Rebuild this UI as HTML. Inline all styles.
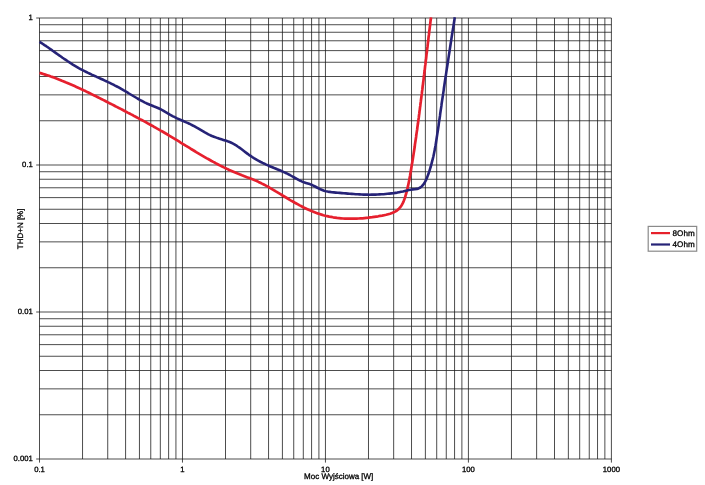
<!DOCTYPE html>
<html lang="pl"><head><meta charset="utf-8"><title>THD+N</title>
<style>
html,body{margin:0;padding:0;background:#fff;}
body{width:705px;height:485px;overflow:hidden;position:relative;}
svg{display:block;position:absolute;left:0;top:0;}
text{font-family:"Liberation Sans",sans-serif;fill:#000;stroke:#000;stroke-width:0.3px;text-rendering:geometricPrecision;}
.t{font-size:7.7px;}
.a{font-size:8px;}
.l{font-size:8.1px;}
</style></head><body>
<svg width="705" height="485" viewBox="0 0 705 485">
<rect width="705" height="485" fill="#fff"/>

<g stroke="#1a1a1a" stroke-width="0.78" fill="none">
<line x1="39.50" y1="18.00" x2="39.50" y2="462.60"/>
<line x1="82.54" y1="18.00" x2="82.54" y2="459.00"/>
<line x1="107.72" y1="18.00" x2="107.72" y2="459.00"/>
<line x1="125.58" y1="18.00" x2="125.58" y2="459.00"/>
<line x1="139.44" y1="18.00" x2="139.44" y2="459.00"/>
<line x1="150.76" y1="18.00" x2="150.76" y2="459.00"/>
<line x1="160.33" y1="18.00" x2="160.33" y2="459.00"/>
<line x1="168.62" y1="18.00" x2="168.62" y2="459.00"/>
<line x1="175.93" y1="18.00" x2="175.93" y2="459.00"/>
<line x1="182.47" y1="18.00" x2="182.47" y2="462.60"/>
<line x1="225.51" y1="18.00" x2="225.51" y2="459.00"/>
<line x1="250.69" y1="18.00" x2="250.69" y2="459.00"/>
<line x1="268.55" y1="18.00" x2="268.55" y2="459.00"/>
<line x1="282.41" y1="18.00" x2="282.41" y2="459.00"/>
<line x1="293.73" y1="18.00" x2="293.73" y2="459.00"/>
<line x1="303.30" y1="18.00" x2="303.30" y2="459.00"/>
<line x1="311.59" y1="18.00" x2="311.59" y2="459.00"/>
<line x1="318.91" y1="18.00" x2="318.91" y2="459.00"/>
<line x1="325.45" y1="18.00" x2="325.45" y2="462.60"/>
<line x1="368.49" y1="18.00" x2="368.49" y2="459.00"/>
<line x1="393.67" y1="18.00" x2="393.67" y2="459.00"/>
<line x1="411.53" y1="18.00" x2="411.53" y2="459.00"/>
<line x1="425.39" y1="18.00" x2="425.39" y2="459.00"/>
<line x1="436.71" y1="18.00" x2="436.71" y2="459.00"/>
<line x1="446.28" y1="18.00" x2="446.28" y2="459.00"/>
<line x1="454.57" y1="18.00" x2="454.57" y2="459.00"/>
<line x1="461.88" y1="18.00" x2="461.88" y2="459.00"/>
<line x1="468.42" y1="18.00" x2="468.42" y2="462.60"/>
<line x1="511.46" y1="18.00" x2="511.46" y2="459.00"/>
<line x1="536.64" y1="18.00" x2="536.64" y2="459.00"/>
<line x1="554.50" y1="18.00" x2="554.50" y2="459.00"/>
<line x1="568.36" y1="18.00" x2="568.36" y2="459.00"/>
<line x1="579.68" y1="18.00" x2="579.68" y2="459.00"/>
<line x1="589.25" y1="18.00" x2="589.25" y2="459.00"/>
<line x1="597.54" y1="18.00" x2="597.54" y2="459.00"/>
<line x1="604.86" y1="18.00" x2="604.86" y2="459.00"/>
<line x1="611.40" y1="18.00" x2="611.40" y2="462.60"/>
<line x1="36.20" y1="459.00" x2="611.40" y2="459.00"/>
<line x1="39.50" y1="414.75" x2="611.40" y2="414.75"/>
<line x1="39.50" y1="388.86" x2="611.40" y2="388.86"/>
<line x1="39.50" y1="370.50" x2="611.40" y2="370.50"/>
<line x1="39.50" y1="356.25" x2="611.40" y2="356.25"/>
<line x1="39.50" y1="344.61" x2="611.40" y2="344.61"/>
<line x1="39.50" y1="334.77" x2="611.40" y2="334.77"/>
<line x1="39.50" y1="326.25" x2="611.40" y2="326.25"/>
<line x1="39.50" y1="318.73" x2="611.40" y2="318.73"/>
<line x1="36.20" y1="312.00" x2="611.40" y2="312.00"/>
<line x1="39.50" y1="267.75" x2="611.40" y2="267.75"/>
<line x1="39.50" y1="241.86" x2="611.40" y2="241.86"/>
<line x1="39.50" y1="223.50" x2="611.40" y2="223.50"/>
<line x1="39.50" y1="209.25" x2="611.40" y2="209.25"/>
<line x1="39.50" y1="197.61" x2="611.40" y2="197.61"/>
<line x1="39.50" y1="187.77" x2="611.40" y2="187.77"/>
<line x1="39.50" y1="179.25" x2="611.40" y2="179.25"/>
<line x1="39.50" y1="171.73" x2="611.40" y2="171.73"/>
<line x1="36.20" y1="165.00" x2="611.40" y2="165.00"/>
<line x1="39.50" y1="120.75" x2="611.40" y2="120.75"/>
<line x1="39.50" y1="94.86" x2="611.40" y2="94.86"/>
<line x1="39.50" y1="76.50" x2="611.40" y2="76.50"/>
<line x1="39.50" y1="62.25" x2="611.40" y2="62.25"/>
<line x1="39.50" y1="50.61" x2="611.40" y2="50.61"/>
<line x1="39.50" y1="40.77" x2="611.40" y2="40.77"/>
<line x1="39.50" y1="32.25" x2="611.40" y2="32.25"/>
<line x1="39.50" y1="24.73" x2="611.40" y2="24.73"/>
<line x1="36.20" y1="18.00" x2="611.40" y2="18.00"/>
</g>
<path d="M39.5,72.9 L41.4,73.4 L43.3,74.0 L45.2,74.6 L47.1,75.2 L49.0,75.8 L50.8,76.5 L52.7,77.1 L54.5,77.8 L56.4,78.5 L58.2,79.2 L60.1,79.9 L61.9,80.7 L63.8,81.4 L65.6,82.2 L67.4,82.9 L69.2,83.7 L71.0,84.5 L72.8,85.3 L74.6,86.1 L76.4,86.9 L78.2,87.7 L80.0,88.6 L81.8,89.4 L83.6,90.3 L85.4,91.1 L87.2,92.0 L88.9,92.8 L90.7,93.7 L92.5,94.6 L94.3,95.5 L96.0,96.3 L97.8,97.2 L99.6,98.1 L101.3,99.0 L103.1,99.9 L104.9,100.8 L106.6,101.7 L108.4,102.6 L110.1,103.5 L111.9,104.4 L113.7,105.3 L115.4,106.2 L117.2,107.1 L118.9,108.0 L120.7,108.9 L122.4,109.8 L124.2,110.8 L126.0,111.7 L127.7,112.6 L129.5,113.5 L131.2,114.4 L133.0,115.3 L134.7,116.3 L136.5,117.2 L138.2,118.1 L139.9,119.1 L141.7,120.0 L143.4,120.9 L145.2,121.9 L146.9,122.8 L148.6,123.8 L150.3,124.7 L152.1,125.7 L153.8,126.7 L155.5,127.6 L157.2,128.6 L159.0,129.6 L160.7,130.6 L162.4,131.5 L164.1,132.5 L165.8,133.5 L167.5,134.5 L169.2,135.6 L170.9,136.6 L172.6,137.6 L174.3,138.6 L176.0,139.7 L177.7,140.7 L179.3,141.7 L181.0,142.8 L182.7,143.8 L184.4,144.8 L186.1,145.9 L187.8,146.9 L189.5,147.9 L191.1,149.0 L192.8,150.0 L194.5,151.0 L196.2,152.1 L197.9,153.1 L199.6,154.1 L201.3,155.1 L203.0,156.1 L204.7,157.1 L206.4,158.1 L208.2,159.0 L209.9,160.0 L211.6,161.0 L213.3,161.9 L215.1,162.8 L216.8,163.8 L218.6,164.7 L220.3,165.6 L222.1,166.5 L223.9,167.4 L225.6,168.2 L227.4,169.1 L229.2,169.9 L231.0,170.7 L232.8,171.5 L234.6,172.3 L236.4,173.1 L238.3,173.8 L240.1,174.5 L242.0,175.3 L243.8,176.0 L245.7,176.7 L247.5,177.4 L249.4,178.1 L251.2,178.8 L253.1,179.5 L254.9,180.3 L256.7,181.0 L258.5,181.9 L260.3,182.7 L262.0,183.6 L263.8,184.5 L265.5,185.4 L267.3,186.4 L269.0,187.3 L270.7,188.3 L272.4,189.3 L274.1,190.3 L275.8,191.4 L277.5,192.4 L279.2,193.4 L280.9,194.4 L282.6,195.5 L284.3,196.5 L286.0,197.5 L287.7,198.5 L289.4,199.6 L291.1,200.6 L292.8,201.5 L294.5,202.5 L296.3,203.5 L298.0,204.4 L299.7,205.4 L301.5,206.3 L303.2,207.2 L305.0,208.1 L306.8,208.9 L308.6,209.7 L310.4,210.5 L312.2,211.3 L314.0,212.0 L315.9,212.7 L317.7,213.4 L319.6,214.0 L321.5,214.6 L323.4,215.2 L325.3,215.7 L327.2,216.1 L329.2,216.6 L331.1,216.9 L333.1,217.3 L335.0,217.6 L337.0,217.9 L339.0,218.1 L341.0,218.3 L343.0,218.5 L344.9,218.6 L346.9,218.7 L348.9,218.7 L350.8,218.7 L352.8,218.7 L354.8,218.7 L356.7,218.6 L358.6,218.5 L360.6,218.4 L362.5,218.3 L364.5,218.1 L366.4,217.9 L368.4,217.7 L370.3,217.4 L372.3,217.2 L374.3,216.9 L376.2,216.6 L378.2,216.3 L380.2,215.9 L382.2,215.6 L384.2,215.2 L386.2,214.8 L388.2,214.3 L390.1,213.8 L392.0,213.1 L393.8,212.3 L395.6,211.4 L397.2,210.3 L398.6,209.1 L399.9,207.7 L401.0,206.2 L402.0,204.6 L402.9,202.9 L403.7,201.1 L404.4,199.3 L405.1,197.4 L405.6,195.4 L406.2,193.5 L406.7,191.6 L407.2,189.6 L407.6,187.7 L408.1,185.7 L408.5,183.8 L408.9,181.9 L409.3,179.9 L409.6,178.0 L410.0,176.0 L410.3,174.1 L410.7,172.1 L411.0,170.2 L411.3,168.2 L411.6,166.3 L411.9,164.3 L412.3,162.4 L412.6,160.4 L412.9,158.5 L413.2,156.5 L413.5,154.6 L413.8,152.6 L414.1,150.7 L414.4,148.7 L414.7,146.8 L414.9,144.8 L415.2,142.9 L415.5,140.9 L415.8,139.0 L416.1,137.0 L416.3,135.0 L416.6,133.1 L416.9,131.1 L417.2,129.2 L417.4,127.2 L417.7,125.3 L418.0,123.3 L418.2,121.3 L418.5,119.4 L418.8,117.4 L419.0,115.5 L419.3,113.5 L419.5,111.5 L419.8,109.6 L420.0,107.6 L420.3,105.7 L420.5,103.7 L420.8,101.7 L421.0,99.8 L421.3,97.8 L421.5,95.8 L421.8,93.9 L422.0,91.9 L422.3,89.9 L422.5,88.0 L422.7,86.0 L423.0,84.1 L423.2,82.1 L423.5,80.1 L423.7,78.2 L423.9,76.2 L424.2,74.2 L424.4,72.3 L424.7,70.3 L424.9,68.3 L425.1,66.4 L425.4,64.4 L425.6,62.4 L425.8,60.5 L426.1,58.5 L426.3,56.6 L426.5,54.6 L426.8,52.6 L427.0,50.7 L427.2,48.7 L427.5,46.7 L427.7,44.8 L427.9,42.8 L428.2,40.8 L428.4,38.9 L428.6,36.9 L428.9,35.0 L429.1,33.0 L429.3,31.0 L429.6,29.1 L429.8,27.1 L430.1,25.1 L430.3,23.2 L430.5,21.2 L430.8,19.3 L431.0,17.3" fill="none" stroke="#e6202e" stroke-width="2.7" stroke-linejoin="round"/>
<path d="M39.5,41.9 L41.2,42.9 L42.9,44.0 L44.5,45.1 L46.2,46.2 L47.8,47.3 L49.5,48.5 L51.1,49.6 L52.7,50.8 L54.3,51.9 L56.0,53.1 L57.6,54.2 L59.2,55.4 L60.9,56.5 L62.5,57.7 L64.1,58.8 L65.8,59.9 L67.4,61.0 L69.1,62.1 L70.7,63.2 L72.4,64.3 L74.1,65.3 L75.8,66.3 L77.5,67.3 L79.2,68.3 L81.0,69.3 L82.7,70.2 L84.5,71.1 L86.3,72.0 L88.1,72.9 L89.9,73.7 L91.7,74.6 L93.5,75.4 L95.3,76.2 L97.1,77.1 L98.9,77.9 L100.7,78.7 L102.6,79.5 L104.4,80.4 L106.2,81.2 L108.0,82.1 L109.8,82.9 L111.6,83.8 L113.4,84.7 L115.1,85.6 L116.9,86.5 L118.7,87.4 L120.4,88.4 L122.1,89.4 L123.8,90.4 L125.6,91.4 L127.3,92.4 L129.0,93.5 L130.7,94.5 L132.4,95.5 L134.1,96.5 L135.8,97.5 L137.5,98.5 L139.3,99.5 L141.0,100.5 L142.8,101.4 L144.5,102.3 L146.3,103.2 L148.1,104.0 L149.9,104.8 L151.8,105.5 L153.6,106.3 L155.5,107.0 L157.3,107.7 L159.1,108.5 L160.9,109.4 L162.7,110.3 L164.4,111.3 L166.1,112.3 L167.8,113.3 L169.5,114.4 L171.2,115.3 L173.0,116.3 L174.8,117.2 L176.5,118.1 L178.3,118.9 L180.2,119.7 L182.0,120.5 L183.8,121.3 L185.6,122.1 L187.5,122.9 L189.3,123.7 L191.1,124.6 L192.8,125.5 L194.6,126.4 L196.3,127.4 L198.1,128.4 L199.8,129.4 L201.5,130.4 L203.2,131.4 L204.9,132.4 L206.7,133.4 L208.4,134.3 L210.2,135.2 L212.0,136.0 L213.9,136.7 L215.7,137.4 L217.6,138.1 L219.5,138.7 L221.4,139.3 L223.3,139.9 L225.3,140.5 L227.1,141.1 L229.0,141.8 L230.8,142.5 L232.6,143.4 L234.4,144.3 L236.1,145.3 L237.7,146.5 L239.4,147.6 L241.0,148.8 L242.6,150.0 L244.2,151.2 L245.7,152.4 L247.3,153.6 L248.9,154.8 L250.6,155.9 L252.2,157.0 L253.9,158.1 L255.6,159.1 L257.3,160.1 L259.1,161.1 L260.8,162.0 L262.6,162.9 L264.4,163.7 L266.2,164.6 L268.0,165.4 L269.8,166.2 L271.7,167.0 L273.5,167.8 L275.4,168.5 L277.2,169.3 L279.0,170.0 L280.9,170.8 L282.7,171.6 L284.5,172.4 L286.3,173.2 L288.1,174.1 L289.9,175.0 L291.6,176.0 L293.3,177.0 L295.1,178.0 L296.8,178.9 L298.5,179.9 L300.3,180.7 L302.1,181.6 L304.0,182.3 L305.9,182.9 L307.8,183.5 L309.7,184.1 L311.5,184.8 L313.3,185.6 L315.1,186.5 L316.9,187.5 L318.6,188.4 L320.4,189.3 L322.2,190.0 L324.1,190.7 L326.0,191.2 L327.9,191.6 L329.8,191.9 L331.8,192.2 L333.8,192.4 L335.8,192.6 L337.8,192.8 L339.8,192.9 L341.8,193.1 L343.8,193.3 L345.8,193.4 L347.8,193.6 L349.7,193.8 L351.7,193.9 L353.7,194.0 L355.7,194.2 L357.6,194.3 L359.6,194.4 L361.6,194.5 L363.6,194.6 L365.5,194.6 L367.5,194.6 L369.5,194.7 L371.5,194.6 L373.5,194.6 L375.5,194.6 L377.5,194.5 L379.5,194.4 L381.5,194.3 L383.5,194.2 L385.5,194.0 L387.5,193.8 L389.4,193.6 L391.4,193.4 L393.3,193.2 L395.3,192.9 L397.2,192.6 L399.2,192.2 L401.1,191.8 L403.0,191.4 L404.9,190.9 L406.9,190.5 L408.8,190.0 L410.8,189.7 L412.8,189.4 L414.8,189.2 L416.8,188.9 L418.6,188.4 L420.3,187.5 L421.7,186.4 L423.0,185.0 L424.2,183.4 L425.2,181.6 L426.1,179.9 L426.9,178.0 L427.6,176.1 L428.3,174.2 L429.0,172.3 L429.6,170.3 L430.2,168.4 L430.8,166.5 L431.3,164.6 L431.8,162.6 L432.3,160.7 L432.8,158.8 L433.3,156.8 L433.7,154.9 L434.1,152.9 L434.5,151.0 L434.9,149.1 L435.2,147.1 L435.6,145.2 L435.9,143.2 L436.2,141.3 L436.5,139.3 L436.8,137.3 L437.1,135.4 L437.4,133.4 L437.7,131.5 L438.0,129.5 L438.3,127.5 L438.6,125.6 L438.8,123.6 L439.1,121.6 L439.4,119.7 L439.7,117.7 L440.0,115.7 L440.2,113.8 L440.5,111.8 L440.8,109.8 L441.1,107.9 L441.4,105.9 L441.6,103.9 L441.9,102.0 L442.2,100.0 L442.5,98.0 L442.8,96.1 L443.1,94.1 L443.4,92.1 L443.7,90.1 L443.9,88.2 L444.2,86.2 L444.5,84.2 L444.8,82.2 L445.1,80.3 L445.4,78.3 L445.7,76.3 L446.0,74.4 L446.3,72.4 L446.6,70.4 L446.9,68.4 L447.2,66.5 L447.5,64.5 L447.8,62.5 L448.1,60.6 L448.4,58.6 L448.7,56.6 L449.0,54.6 L449.3,52.7 L449.6,50.7 L449.9,48.7 L450.2,46.8 L450.5,44.8 L450.8,42.8 L451.1,40.9 L451.4,38.9 L451.7,36.9 L452.0,35.0 L452.3,33.0 L452.6,31.0 L453.0,29.1 L453.3,27.1 L453.6,25.2 L453.9,23.2 L454.2,21.2 L454.5,19.3 L454.8,17.3" fill="none" stroke="#262377" stroke-width="2.6" stroke-linejoin="round"/>
<text class="t" x="32.8" y="20.4" text-anchor="end">1</text>
<text class="t" x="32.8" y="167.4" text-anchor="end">0.1</text>
<text class="t" x="32.8" y="314.4" text-anchor="end">0.01</text>
<text class="t" x="32.8" y="461.4" text-anchor="end">0.001</text>
<text class="t" x="39.5" y="472.2" text-anchor="middle">0.1</text>
<text class="t" x="182.5" y="472.2" text-anchor="middle">1</text>
<text class="t" x="325.4" y="472.2" text-anchor="middle">10</text>
<text class="t" x="468.4" y="472.2" text-anchor="middle">100</text>
<text class="t" x="611.4" y="472.2" text-anchor="middle">1000</text>
<text class="a" x="338.7" y="479.2" text-anchor="middle">Moc Wyjściowa [W]</text>
<text class="a" transform="translate(22.8,228.9) rotate(-90)" text-anchor="middle">THD+N [%]</text>
<rect x="648.2" y="226.4" width="48.5" height="24.8" fill="#fff" stroke="#8a8a8a" stroke-width="1.2"/>
<line x1="651" y1="233.1" x2="670" y2="233.1" stroke="#e6212b" stroke-width="2.2"/>
<line x1="651" y1="244.5" x2="670" y2="244.5" stroke="#262377" stroke-width="2.2"/>
<text class="l" x="672.6" y="235.8">8Ohm</text>
<text class="l" x="672.6" y="247.2">4Ohm</text>
</svg></body></html>
